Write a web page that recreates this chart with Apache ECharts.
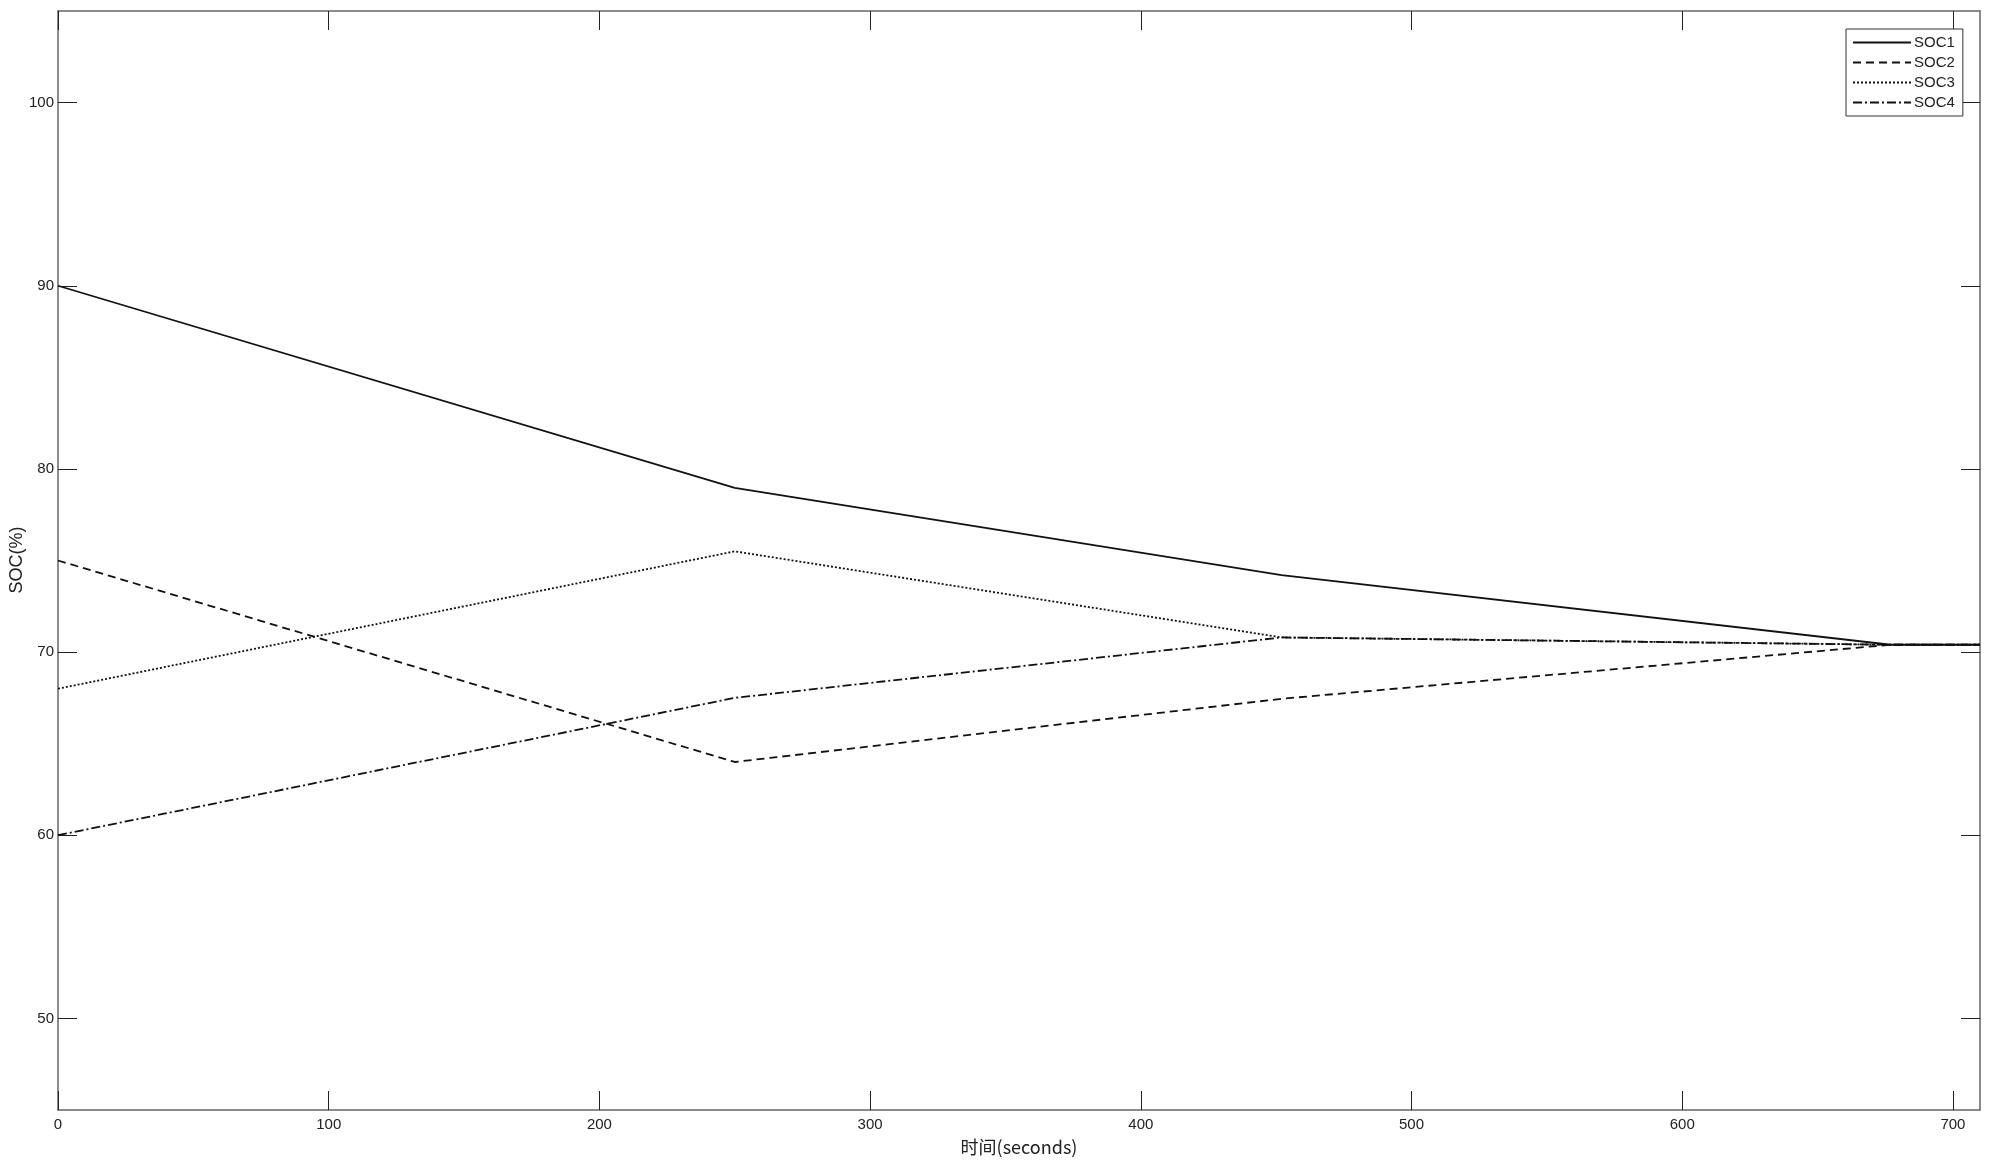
<!DOCTYPE html>
<html>
<head>
<meta charset="utf-8">
<title>SOC</title>
<script src="https://cdn.jsdelivr.net/npm/echarts@6/dist/echarts.min.js"></script>
<style>
  html, body { margin: 0; padding: 0; background: #fff; }
  #main { width: 2000px; height: 1165px; }
</style>
</head>
<body>
<div id="main"></div>
<script>
// 时间轴 (s)
var time = [0, 250, 452, 677, 710];
// 各电池 SOC (%)
var soc1 = [90, 78.96, 74.2, 70.4, 70.4];
var soc2 = [75, 64.0, 67.45, 70.4, 70.4];
var soc3 = [68, 75.5, 70.8, 70.4, 70.4];
var soc4 = [60, 67.5, 70.8, 70.4, 70.4];
var seriesNames = ['SOC1', 'SOC2', 'SOC3', 'SOC4'];
var xTicks = [0, 100, 200, 300, 400, 500, 600, 700];
var yTicks = [50, 60, 70, 80, 90, 100];

function pairs(ys) {
  return time.map(function (t, i) { return [t, ys[i]]; });
}

var font = 'Liberation Sans, Arial, sans-serif';
var boxColor = '#666';
var dashes = ['solid', [8, 5], [2, 2], [9, 3, 2, 3]];
var allData = [soc1, soc2, soc3, soc4];

var chart = echarts.init(document.getElementById('main'));
chart.setOption({
  animation: false,
  backgroundColor: '#fff',
  grid: { left: 58, top: 11, right: 20, bottom: 55, containLabel: false, outerBoundsMode: 'none' },
  // y轴标题, 用 graphic 放到固定位置
  graphic: [{
    type: 'text',
    x: 17,
    y: 560,
    rotation: Math.PI / 2,
    style: {
      text: 'SOC(%)',
      fontFamily: font,
      fontSize: 18,
      fill: '#222',
      align: 'center',
      verticalAlign: 'middle'
    }
  }],
  legend: {
    data: seriesNames,
    orient: 'vertical',
    left: 1846,
    top: 29,
    padding: [6, 8, 6, 6],
    itemGap: 5,
    itemWidth: 58,
    itemHeight: 14,
    borderColor: '#333',
    borderWidth: 1,
    backgroundColor: '#fff',
    itemStyle: { color: 'transparent', borderColor: 'transparent', borderWidth: 0 },
    textStyle: { fontFamily: font, fontSize: 15, color: '#222', padding: [0, 0, 0, -2] }
  },
  xAxis: [{
    type: 'value',
    min: 0,
    max: 710,
    name: '时间(seconds)',
    nameLocation: 'middle',
    nameGap: 28,
    nameTextStyle: { fontFamily: 'Noto Sans CJK SC, ' + font, fontSize: 18, color: '#222' },
    axisLine: { show: true, lineStyle: { color: boxColor, width: 1.5 } },
    axisTick: { show: true, inside: true, length: 19, customValues: xTicks, lineStyle: { color: '#222' } },
    axisLabel: { customValues: xTicks, margin: 7, fontFamily: font, fontSize: 15, color: '#222' },
    splitLine: { show: false }
  }, {
    type: 'value',
    position: 'top',
    min: 0,
    max: 710,
    axisLine: { show: true, onZero: false, lineStyle: { color: boxColor, width: 1.5 } },
    axisTick: { show: true, inside: true, length: 19, customValues: xTicks, lineStyle: { color: '#222' } },
    axisLabel: { show: false },
    splitLine: { show: false }
  }],
  yAxis: [{
    type: 'value',
    min: 45,
    max: 105,
    axisLine: { show: true, lineStyle: { color: boxColor, width: 1.5 } },
    axisTick: { show: true, inside: true, length: 19, customValues: yTicks, lineStyle: { color: '#222' } },
    axisLabel: { customValues: yTicks, margin: 4, fontFamily: font, fontSize: 15, color: '#222' },
    splitLine: { show: false }
  }, {
    type: 'value',
    position: 'right',
    min: 45,
    max: 105,
    axisLine: { show: true, onZero: false, lineStyle: { color: boxColor, width: 1.5 } },
    axisTick: { show: true, inside: true, length: 19, customValues: yTicks, lineStyle: { color: '#222' } },
    axisLabel: { show: false },
    splitLine: { show: false }
  }],
  series: seriesNames.map(function (name, i) {
    return {
      name: name,
      type: 'line',
      data: pairs(allData[i]),
      symbol: 'none',
      color: '#111',
      lineStyle: { color: '#111', width: 1.8, type: dashes[i] },
      z: 10 - i
    };
  })
});
</script>
</body>
</html>
